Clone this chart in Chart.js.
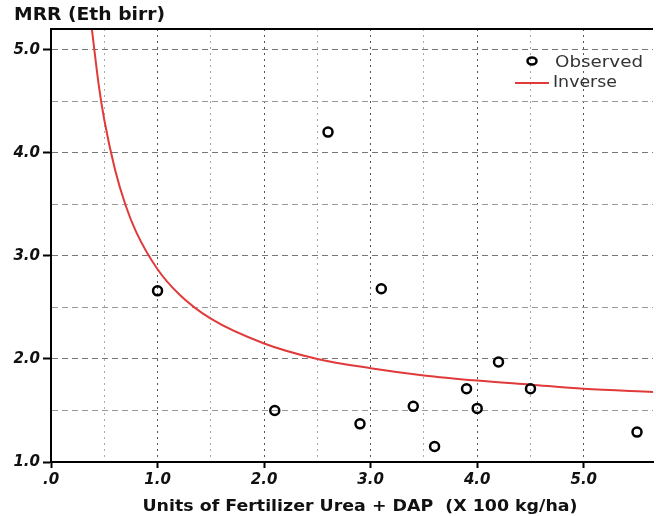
<!DOCTYPE html>
<html>
<head>
<meta charset="utf-8">
<script src="https://cdn.jsdelivr.net/npm/chart.js@4.4.1/dist/chart.umd.min.js"></script>
<style>
  html, body { margin: 0; padding: 0; background: #fff; }
  #wrap { width: 656px; height: 516px; }
</style>
</head>
<body>
<div id="wrap"><canvas id="mrr-chart" width="656" height="516"></canvas></div>
<script>
// Observed MRR at each fertilizer level
const fertUnits   = [1.0, 2.1, 2.6, 2.9, 3.1, 3.4, 3.6, 3.9, 4.0, 4.2, 4.5, 5.5];
const mrrObserved = [2.66, 1.50, 4.20, 1.37, 2.68, 1.54, 1.15, 1.71, 1.52, 1.97, 1.71, 1.29];

// Fitted inverse curve, read along its length
const curveX = [0.38, 0.45, 0.5, 0.6, 0.7, 0.8, 1.0, 1.2, 1.5, 2.0, 2.5, 3.0, 3.5, 4.0, 4.5, 5.0, 5.65];
const curveY = [5.23, 4.64, 4.32, 3.84, 3.49, 3.23, 2.87, 2.63, 2.39, 2.15, 2.00, 1.91, 1.84, 1.79, 1.75, 1.71, 1.68];

// Axis labels
const xTickLabels = ['.0', '1.0', '2.0', '3.0', '4.0', '5.0'];
const yTickLabels = ['1.0', '2.0', '3.0', '4.0', '5.0'];
const xTitle = 'Units of Fertilizer Urea + DAP  (X 100 kg/ha)';
const yTitle = 'MRR (Eth birr)';

const X_MIN = 0, X_MAX = 5.65, Y_MIN = 1, Y_MAX = 5.2;

const isWhole = v => Math.abs(v - Math.round(v)) < 1e-6;
const tickFont = { family: '"DejaVu Sans", sans-serif', size: 15, weight: 'bold', style: 'italic' };

// stretch text horizontally so it spans a given width
function wideText(ctx, text, x, y, width, font, color, align) {
  ctx.save();
  ctx.font = font;
  ctx.fillStyle = color;
  ctx.textBaseline = 'middle';
  ctx.textAlign = 'left';
  const w = ctx.measureText(text).width;
  const sx = width / w;
  const left = align === 'center' ? x - width / 2 : x;
  ctx.translate(left, y);
  ctx.scale(sx, 1);
  ctx.fillText(text, 0, 0);
  ctx.restore();
}

const decorations = {
  id: 'decorations',
  afterDraw(chart) {
    const { ctx, chartArea } = chart;
    // top frame line
    ctx.save();
    ctx.strokeStyle = '#000';
    ctx.lineWidth = 2;
    ctx.beginPath();
    ctx.moveTo(chartArea.left - 1, chartArea.top);
    ctx.lineTo(chartArea.right, chartArea.top);
    ctx.stroke();
    ctx.restore();

    wideText(ctx, yTitle, 14, 16, 151, 'bold 17px "DejaVu Sans", sans-serif', '#111', 'left');
    wideText(ctx, xTitle, 360, 507, 435, 'bold 16px "DejaVu Sans", sans-serif', '#111', 'center');

    // legend
    ctx.save();
    ctx.strokeStyle = '#000';
    ctx.lineWidth = 2.5;
    ctx.beginPath();
    ctx.ellipse(532, 61, 4.5, 3.5, 0, 0, Math.PI * 2);
    ctx.stroke();
    ctx.strokeStyle = '#e03a3a';
    ctx.lineWidth = 2;
    ctx.beginPath();
    ctx.moveTo(515, 83);
    ctx.lineTo(549, 83);
    ctx.stroke();
    ctx.restore();
    wideText(ctx, 'Observed', 555, 63, 88, '15px "DejaVu Sans", sans-serif', '#333', 'left');
    wideText(ctx, 'Inverse', 553, 83, 64, '15px "DejaVu Sans", sans-serif', '#333', 'left');
  }
};

const ctx = document.getElementById('mrr-chart').getContext('2d');
const mrrChart = new Chart(ctx, {
  type: 'scatter',
  data: {
    datasets: [{
      label: 'Observed',
      data: fertUnits.map((x, i) => ({ x, y: mrrObserved[i] })),
      pointStyle: 'circle',
      pointRadius: 4.5,
      pointBorderWidth: 2.5,
      pointBorderColor: '#000',
      pointBackgroundColor: 'rgba(0,0,0,0)',
      order: 1
    }, {
      label: 'Inverse',
      type: 'line',
      data: curveX.map((x, i) => ({ x, y: curveY[i] })),
      borderColor: '#e03a3a',
      borderWidth: 2,
      pointRadius: 0,
      cubicInterpolationMode: 'monotone',
      fill: false,
      order: 2
    }]
  },
  options: {
    responsive: false,
    animation: false,
    layout: { autoPadding: false, padding: { top: 29, right: 0, left: 0, bottom: 0 } },
    plugins: {
      legend: { display: false },
      tooltip: { enabled: false }
    },
    scales: {
      x: {
        type: 'linear',
        min: X_MIN,
        max: X_MAX,
        afterFit: scale => { scale.height = 54; },
        ticks: {
          stepSize: 0.5,
          autoSkip: false,
          maxRotation: 0,
          padding: 3,
          color: '#111',
          font: tickFont,
          callback: v => isWhole(v) ? xTickLabels[Math.round(v)] : ''
        },
        grid: {
          color: c => c.tick && c.tick.value > 5.6 ? 'rgba(0,0,0,0)' : (isWhole(c.tick.value) ? '#555' : '#aaa'),
          lineWidth: 1,
          tickLength: 6,
          tickWidth: 2,
          tickColor: c => isWhole(c.tick.value) ? '#000' : 'rgba(0,0,0,0)'
        },
        border: { display: true, color: '#000', width: 2, dash: [2, 4] }
      },
      y: {
        type: 'linear',
        min: Y_MIN,
        max: Y_MAX,
        afterFit: scale => { scale.width = 51; },
        ticks: {
          stepSize: 0.5,
          autoSkip: false,
          padding: 3,
          color: '#111',
          font: tickFont,
          callback: v => isWhole(v) ? yTickLabels[Math.round(v) - 1] : ''
        },
        grid: {
          color: c => isWhole(c.tick.value) ? '#777' : '#999',
          lineWidth: 1,
          tickLength: 8,
          tickWidth: 2,
          tickColor: c => isWhole(c.tick.value) ? '#000' : 'rgba(0,0,0,0)'
        },
        border: { display: true, color: '#000', width: 2, dash: [6, 4] }
      }
    }
  },
  plugins: [decorations]
});
</script>
</body>
</html>
